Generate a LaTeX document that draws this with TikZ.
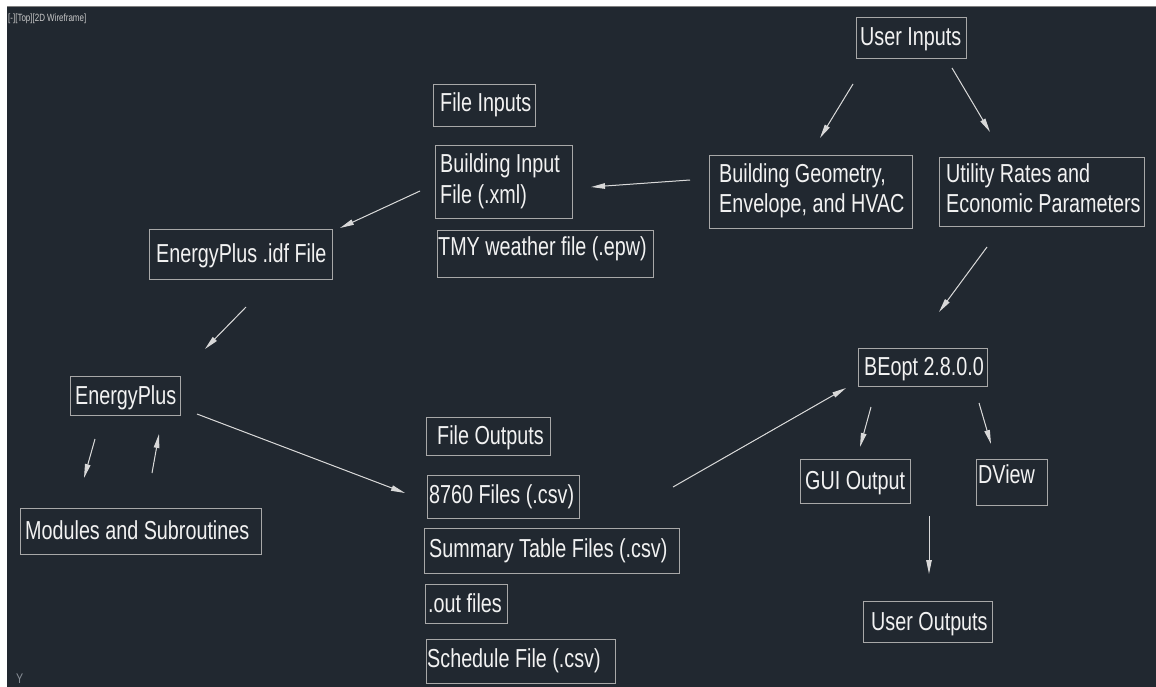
\documentclass[tikz,border=0pt]{standalone}
\usepackage{fontspec}
\setmainfont{Liberation Sans}[FakeStretch=0.76]
\usetikzlibrary{arrows.meta}
\definecolor{bgc}{HTML}{212830}
\definecolor{boxc}{HTML}{A8A8A8}
\definecolor{txtc}{HTML}{F2F2F2}
\definecolor{arrc}{HTML}{D8D8D8}
\definecolor{hdrc}{HTML}{C8C8C8}
\definecolor{axc}{HTML}{8A9098}
\tikzset{
  bx/.style 2 args={draw=boxc, line width=1pt, minimum width=#1pt, minimum height=#2pt, anchor=north west, inner sep=0pt},
  txt/.style={text=txtc, font=\fontsize{26}{31}\selectfont, inner sep=0pt, anchor=base west, align=left},
  arr/.style={draw=arrc, line width=1pt, -{Triangle[length=14pt,width=5.5pt]}, fill=arrc},
}
\begin{document}
\begin{tikzpicture}[x=1pt,y=-1pt]
\useasboundingbox (0,0) rectangle (1156,687);
\fill[white] (0,0) rectangle (1156,687);
\fill[bgc] (7,6) rectangle (1156,687);
\draw[gray, line width=1pt] (7,6.5) -- (1156,6.5);
\node[text=hdrc, font=\fontsize{10.5}{12}\selectfont, inner sep=0pt, anchor=base west] (hdr) at (8,22) {[-][Top][2D Wireframe]};
\node[text=axc, font=\fontsize{14}{16}\selectfont, inner sep=0pt, anchor=base west] (yax) at (16,683) {Y};

% boxes
\node[bx={110}{41}] (ui) at (856,17) {};
\node[txt] (ui-t) at (860,46) {User Inputs};
\node[bx={102}{42}] (fi) at (433,84) {};
\node[txt] (fi-t) at (440,112) {File Inputs};
\node[bx={137}{73}] (bif) at (435,145) {};
\node[txt] (bif-t) at (440,204) {Building Input\\File (.xml)};
\node[bx={216}{47}] (tmy) at (437,230) {};
\node[txt] (tmy-t) at (438,255) {TMY weather file (.epw)};
\node[bx={203}{73}] (bg) at (709,155) {};
\node[txt] (bg-t) at (719,213) {Building Geometry,\\Envelope, and HVAC};
\node[bx={205}{69}] (ur) at (939,157) {};
\node[txt] (ur-t) at (946,213) {Utility Rates and\\Economic Parameters};
\node[bx={183}{50}] (idf) at (149,229) {};
\node[txt] (idf-t) at (156,262) {EnergyPlus .idf File};
\node[bx={110}{39}] (ep) at (70,376) {};
\node[txt] (ep-t) at (75,404) {EnergyPlus};
\node[bx={241}{46}] (mod) at (20,508) {};
\node[txt] (mod-t) at (25,539) {Modules and Subroutines};
\node[bx={124}{38}] (fo) at (426,417) {};
\node[txt] (fo-t) at (437,444) {File Outputs};
\node[bx={152}{43}] (f87) at (427,475) {};
\node[txt] (f87-t) at (429,503) {8760 Files (.csv)};
\node[bx={255}{45}] (sum) at (424,528) {};
\node[txt] (sum-t) at (429,557) {Summary Table Files (.csv)};
\node[bx={82}{39}] (out) at (425,584) {};
\node[txt] (out-t) at (428,612) {.out files};
\node[bx={189}{44}] (sch) at (426,639) {};
\node[txt] (sch-t) at (427,667) {Schedule File (.csv)};
\node[bx={129}{38}] (beo) at (858,348) {};
\node[txt] (beo-t) at (864,375) {BEopt 2.8.0.0};
\node[bx={110}{44}] (gui) at (800,459) {};
\node[txt] (gui-t) at (805,489) {GUI Output};
\node[bx={71}{46}] (dv) at (976,459) {};
\node[txt] (dv-t) at (978,483) {DView};
\node[bx={129}{41}] (uo) at (863,601) {};
\node[txt] (uo-t) at (871,630) {User Outputs};

% arrow end points
\coordinate (a1s) at (853,84);  \coordinate (a1e) at (820,138);
\coordinate (a2s) at (952,68);  \coordinate (a2e) at (990,132);
\coordinate (a3s) at (690,180); \coordinate (a3e) at (591,187);
\coordinate (a4s) at (420,191); \coordinate (a4e) at (340,228);
\coordinate (a5s) at (246,307); \coordinate (a5e) at (205,349);
\coordinate (a6s) at (95,439);  \coordinate (a6e) at (84,478);
\coordinate (a7s) at (152,473); \coordinate (a7e) at (159,434);
\coordinate (a8s) at (197,414); \coordinate (a8e) at (405,493);
\coordinate (a9s) at (673,487); \coordinate (a9e) at (846,388);
\coordinate (a10s) at (987,247); \coordinate (a10e) at (939,312);
\coordinate (a11s) at (871,407); \coordinate (a11e) at (860,447);
\coordinate (a12s) at (979,403); \coordinate (a12e) at (991,444);
\coordinate (a13s) at (929,516); \coordinate (a13e) at (929,574);

\foreach \i in {1,...,13} {
  \draw[arr] (a\i s) -- (a\i e);
}
\end{tikzpicture}
\end{document}
